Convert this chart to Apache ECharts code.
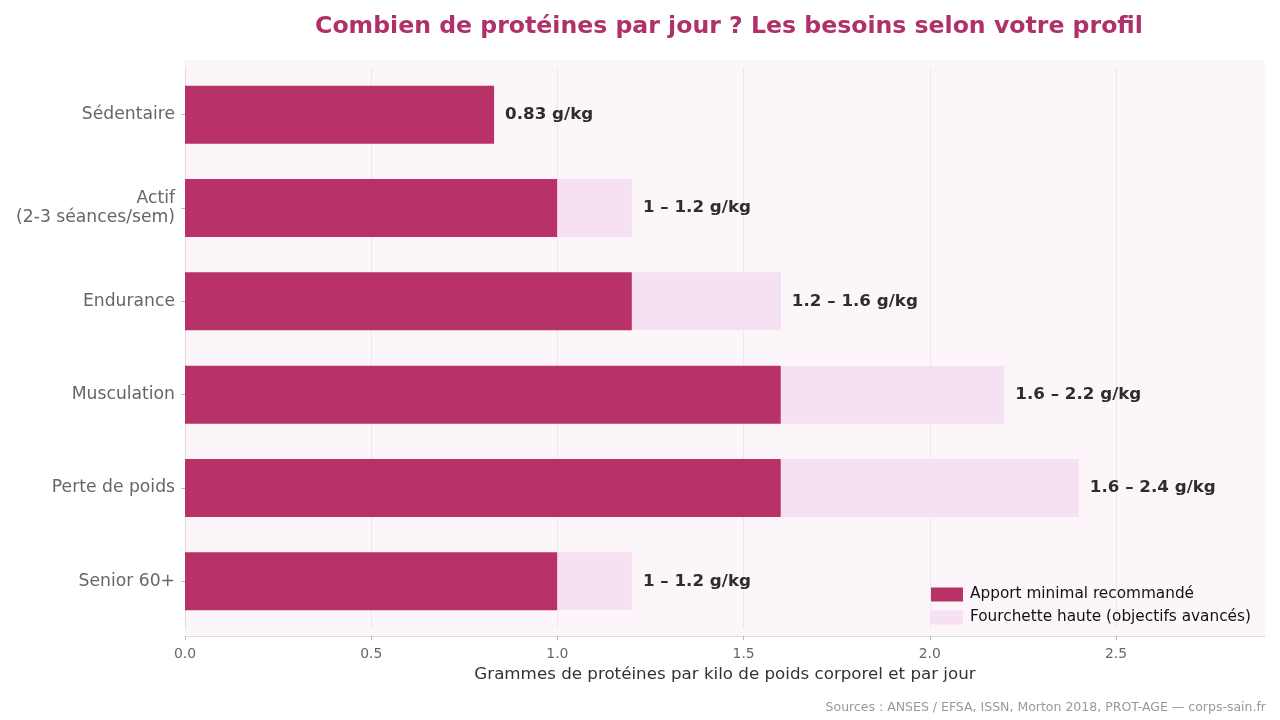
<!DOCTYPE html>
<html>
<head>
<meta charset="utf-8">
<script src="https://cdn.jsdelivr.net/npm/echarts@6/dist/echarts.min.js"></script>
<style>
  html, body { margin: 0; padding: 0; background: #ffffff; }
  #chart { width: 1280px; height: 720px; }
</style>
</head>
<body>
<div id="chart"></div>
<script>
// profils (de haut en bas)
const categories = ['Sédentaire', 'Actif\n(2-3 séances/sem)', 'Endurance', 'Musculation', 'Perte de poids', 'Senior 60+'];
// apport minimal et borne haute (g/kg/jour)
const minValues = [0.83, 1.0, 1.2, 1.6, 1.6, 1.0];
const maxValues = [0.83, 1.2, 1.6, 2.2, 2.4, 1.2];
const valueLabels = ['0.83 g/kg', '1 – 1.2 g/kg', '1.2 – 1.6 g/kg', '1.6 – 2.2 g/kg', '1.6 – 2.4 g/kg', '1 – 1.2 g/kg'];
const xTicks = [0, 0.5, 1.0, 1.5, 2.0, 2.5];

const chart = echarts.init(document.getElementById('chart'));

const extraValues = maxValues.map((v, i) => +(v - minValues[i]).toFixed(2));

const option = {
  backgroundColor: '#ffffff',
  textStyle: { fontFamily: 'DejaVu Sans' },
  title: {
    text: 'Combien de protéines par jour ? Les besoins selon votre profil',
    left: 724, top: 10, textAlign: 'center',
    textStyle: { color: '#b0306a', fontSize: 23.6, fontWeight: 'bold', fontFamily: 'DejaVu Sans' }
  },
  graphic: [
    {
      type: 'rect', z: -10, silent: true,
      shape: { x: 185, y: 60, width: 1080, height: 576 },
      style: { fill: '#fcf6fa' }
    },
    {
      type: 'text', right: 14, top: 701, silent: true,
      style: { text: 'Sources : ANSES / EFSA, ISSN, Morton 2018, PROT-AGE — corps-sain.fr',
               fill: '#999999', fontSize: 12.5, fontFamily: 'DejaVu Sans' }
    }
  ],
  legend: {
    orient: 'vertical',
    left: 926, top: 582,
    itemWidth: 32, itemHeight: 14, itemGap: 8,
    icon: 'rect',
    textStyle: { fontSize: 15.3, color: '#111', fontFamily: 'DejaVu Sans', padding: [0, 0, 0, 2] },
    data: ['Apport minimal recommandé', 'Fourchette haute (objectifs avancés)']
  },
  grid: { left: 185, right: 15, top: 68, bottom: 92, containLabel: false },
  xAxis: {
    type: 'value', min: 0, max: 2.9, interval: 0.5, offset: 8,
    name: 'Grammes de protéines par kilo de poids corporel et par jour',
    nameLocation: 'middle', nameGap: 30,
    nameTextStyle: { fontSize: 16.7, color: '#333' },
    axisLine: { show: true, lineStyle: { color: '#dddddd' } },
    axisTick: { show: true, length: 4, lineStyle: { color: '#bbbbbb' } },
    axisLabel: {
      fontSize: 13.9, color: '#666', margin: 11, showMaxLabel: false,
      formatter: v => xTicks.indexOf(v) >= 0 ? v.toFixed(1) : ''
    },
    splitLine: { show: true, showMaxLine: false, lineStyle: { color: '#efe6ec', width: 1 } }
  },
  yAxis: {
    type: 'category', inverse: true, data: categories,
    axisLine: { show: true, lineStyle: { color: '#dddddd' } },
    axisTick: { show: true, alignWithLabel: true, length: 4, lineStyle: { color: '#bbbbbb' } },
    axisLabel: { fontSize: 17.2, color: '#666', margin: 10, lineHeight: 19, align: 'right' },
    splitLine: { show: false }
  },
  series: [
    {
      name: 'Apport minimal recommandé',
      type: 'bar', stack: 'p', barWidth: 58,
      itemStyle: { color: '#b83268' },
      data: minValues
    },
    {
      name: 'Fourchette haute (objectifs avancés)',
      type: 'bar', stack: 'p', barWidth: 58,
      itemStyle: { color: '#f5e1f2' },
      label: {
        show: true, position: 'right', distance: 11,
        fontSize: 16.7, fontWeight: 'bold', color: '#2d2d2d',
        formatter: p => valueLabels[p.dataIndex]
      },
      data: extraValues
    }
  ]
};

chart.setOption(option);
</script>
</body>
</html>
